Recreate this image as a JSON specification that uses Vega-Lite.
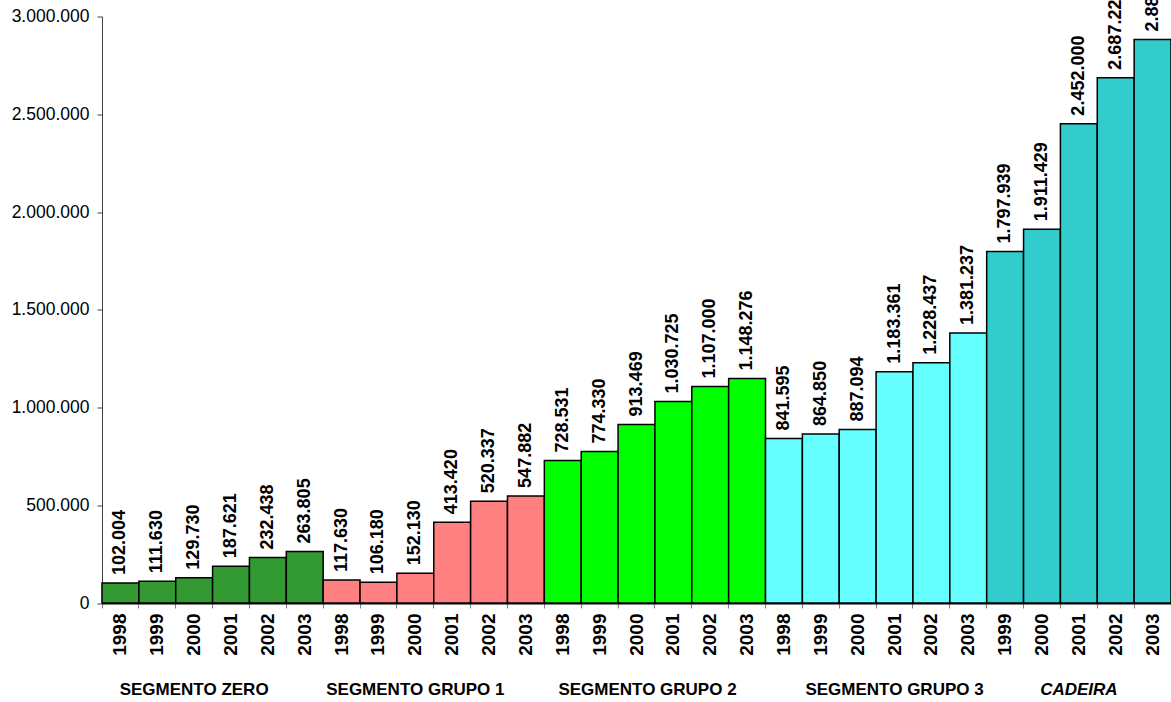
{
  "$schema": "https://vega.github.io/schema/vega-lite/v6.json",
  "autosize": {"type": "none"},
  "width": 1069,
  "height": 586.5,
  "padding": {"left": 102, "top": 16.5, "right": 0, "bottom": 99},
  "background": "white",
  "config": {
    "view": {"stroke": null},
    "font": "Liberation Sans",
    "locale": {"number": {"decimal": ",", "thousands": ".", "grouping": [3], "currency": ["", ""]}}
  },
  "data": {
    "values": [
      {"id": "SEGMENTO ZERO|1998", "seg": "SEGMENTO ZERO", "v": 102004},
      {"id": "SEGMENTO ZERO|1999", "seg": "SEGMENTO ZERO", "v": 111630},
      {"id": "SEGMENTO ZERO|2000", "seg": "SEGMENTO ZERO", "v": 129730},
      {"id": "SEGMENTO ZERO|2001", "seg": "SEGMENTO ZERO", "v": 187621},
      {"id": "SEGMENTO ZERO|2002", "seg": "SEGMENTO ZERO", "v": 232438},
      {"id": "SEGMENTO ZERO|2003", "seg": "SEGMENTO ZERO", "v": 263805},
      {"id": "SEGMENTO GRUPO 1|1998", "seg": "SEGMENTO GRUPO 1", "v": 117630},
      {"id": "SEGMENTO GRUPO 1|1999", "seg": "SEGMENTO GRUPO 1", "v": 106180},
      {"id": "SEGMENTO GRUPO 1|2000", "seg": "SEGMENTO GRUPO 1", "v": 152130},
      {"id": "SEGMENTO GRUPO 1|2001", "seg": "SEGMENTO GRUPO 1", "v": 413420},
      {"id": "SEGMENTO GRUPO 1|2002", "seg": "SEGMENTO GRUPO 1", "v": 520337},
      {"id": "SEGMENTO GRUPO 1|2003", "seg": "SEGMENTO GRUPO 1", "v": 547882},
      {"id": "SEGMENTO GRUPO 2|1998", "seg": "SEGMENTO GRUPO 2", "v": 728531},
      {"id": "SEGMENTO GRUPO 2|1999", "seg": "SEGMENTO GRUPO 2", "v": 774330},
      {"id": "SEGMENTO GRUPO 2|2000", "seg": "SEGMENTO GRUPO 2", "v": 913469},
      {"id": "SEGMENTO GRUPO 2|2001", "seg": "SEGMENTO GRUPO 2", "v": 1030725},
      {"id": "SEGMENTO GRUPO 2|2002", "seg": "SEGMENTO GRUPO 2", "v": 1107000},
      {"id": "SEGMENTO GRUPO 2|2003", "seg": "SEGMENTO GRUPO 2", "v": 1148276},
      {"id": "SEGMENTO GRUPO 3|1998", "seg": "SEGMENTO GRUPO 3", "v": 841595},
      {"id": "SEGMENTO GRUPO 3|1999", "seg": "SEGMENTO GRUPO 3", "v": 864850},
      {"id": "SEGMENTO GRUPO 3|2000", "seg": "SEGMENTO GRUPO 3", "v": 887094},
      {"id": "SEGMENTO GRUPO 3|2001", "seg": "SEGMENTO GRUPO 3", "v": 1183361},
      {"id": "SEGMENTO GRUPO 3|2002", "seg": "SEGMENTO GRUPO 3", "v": 1228437},
      {"id": "SEGMENTO GRUPO 3|2003", "seg": "SEGMENTO GRUPO 3", "v": 1381237},
      {"id": "CADEIRA|1999", "seg": "CADEIRA", "v": 1797939},
      {"id": "CADEIRA|2000", "seg": "CADEIRA", "v": 1911429},
      {"id": "CADEIRA|2001", "seg": "CADEIRA", "v": 2452000},
      {"id": "CADEIRA|2002", "seg": "CADEIRA", "v": 2687220},
      {"id": "CADEIRA|2003", "seg": "CADEIRA", "v": 2882000}
    ]
  },
  "resolve": {"axis": {"x": "independent"}},
  "layer": [
    {
      "mark": {"type": "bar", "stroke": "black", "strokeWidth": 1.5, "opacity": 1},
      "encoding": {
        "x": {
          "field": "id", "type": "nominal", "sort": null,
          "scale": {"paddingInner": 0, "paddingOuter": 0},
          "axis": {
            "orient": "bottom",
            "title": null,
            "bandPosition": 0,
            "labelExpr": "split(datum.value, '|')[1]",
            "labelAngle": -90,
            "labelAlign": "right",
            "labelBaseline": "middle",
            "labelFontSize": 19,
            "labelFontWeight": "bold",
            "labelColor": "black",
            "labelPadding": 5,
            "labelOverlap": false,
            "tickSize": 5,
            "tickColor": "#808080",
            "domainColor": "black",
            "domainWidth": 2
          }
        },
        "y": {
          "field": "v", "type": "quantitative",
          "scale": {"domain": [0, 3000000], "nice": false},
          "axis": {
            "title": null,
            "values": [0, 500000, 1000000, 1500000, 2000000, 2500000, 3000000],
            "format": ",d",
            "grid": false,
            "labelFontSize": 17.5,
            "labelColor": "black",
            "labelPadding": 8,
            "tickSize": 5,
            "tickColor": "#404040",
            "domainColor": "#404040"
          }
        },
        "color": {
          "field": "seg", "type": "nominal", "legend": null,
          "scale": {
            "domain": ["SEGMENTO ZERO", "SEGMENTO GRUPO 1", "SEGMENTO GRUPO 2", "SEGMENTO GRUPO 3", "CADEIRA"],
            "range": ["#339933", "#FF8080", "#00FF00", "#66FFFF", "#33CCCC"]
          }
        }
      }
    },
    {
      "mark": {"type": "text", "angle": 270, "align": "left", "baseline": "middle", "dx": 8, "fontSize": 18, "fontWeight": "bold", "color": "black"},
      "encoding": {
        "x": {
          "field": "id", "type": "nominal", "sort": null,
          "axis": {
            "orient": "bottom",
            "title": null,
            "domain": false,
            "ticks": false,
            "labelAngle": 0,
            "labelAlign": "center",
            "labelBaseline": "top",
            "labelPadding": 78,
            "labelFontSize": 17,
            "labelFontWeight": "bold",
            "labelColor": "black",
            "labelOverlap": false,
            "labelBound": false,
            "labelLimit": 400,
            "labelExpr": "indexof(['SEGMENTO ZERO|2000','SEGMENTO GRUPO 1|2000','SEGMENTO GRUPO 2|2000','SEGMENTO GRUPO 3|2001','CADEIRA|2001'], datum.value) >= 0 ? split(datum.value, '|')[0] : ''",
            "labelOffset": {"condition": {"test": "datum.value == 'SEGMENTO GRUPO 2|2000'", "value": 11}, "value": 0},
            "labelFontStyle": {"condition": {"test": "datum.value == 'CADEIRA|2001'", "value": "italic"}, "value": "normal"}
          }
        },
        "y": {"field": "v", "type": "quantitative"},
        "text": {"field": "v", "type": "quantitative", "format": ",d"}
      }
    }
  ]
}
